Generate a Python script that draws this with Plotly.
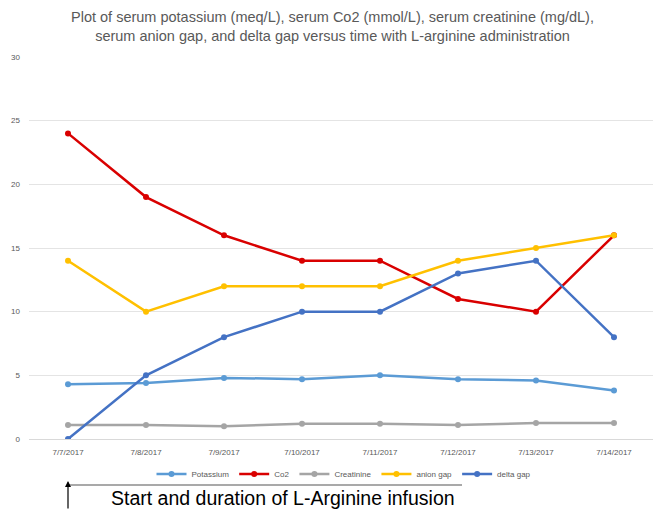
import plotly.graph_objects as go

dates = ["7/7/2017", "7/8/2017", "7/9/2017", "7/10/2017", "7/11/2017", "7/12/2017", "7/13/2017", "7/14/2017"]
potassium = [4.3, 4.4, 4.8, 4.7, 5.0, 4.7, 4.6, 3.8]
co2 = [24, 19, 16, 14, 14, 11, 10, 16]
creatinine = [1.1, 1.1, 1.0, 1.2, 1.2, 1.1, 1.25, 1.25]
anion_gap = [14, 10, 12, 12, 12, 14, 15, 16]
delta_gap = [0, 5, 8, 10, 10, 13, 14, 8]

series = [
    ("Potassium", potassium, "#5B9BD5"),
    ("Co2", co2, "#D90000"),
    ("Creatinine", creatinine, "#A5A5A5"),
    ("anion gap", anion_gap, "#FFC000"),
    ("delta gap", delta_gap, "#4472C4"),
]

fig = go.Figure()
for name, vals, col in series:
    fig.add_trace(go.Scatter(
        x=dates, y=vals, name=name, mode="lines+markers",
        line=dict(color=col, width=2.5),
        marker=dict(color=col, size=6, symbol="circle"),
    ))

W, H = 653, 510
L, R, T, B = 29, 0, 57, 71
pw, ph = W - L - R, H - T - B

def px(xp):
    return (xp - L) / pw

def py(yp):
    return (H - B - yp) / ph

fig.update_layout(
    width=W, height=H,
    margin=dict(l=L, r=R, t=T, b=B, autoexpand=False),
    paper_bgcolor="white", plot_bgcolor="white",
    font=dict(family="Liberation Sans", color="#595959"),
    xaxis=dict(
        type="category", range=[-0.5, 7.5],
        showgrid=False, showline=True, linecolor="#D9D9D9", linewidth=1,
        ticks="", tickfont=dict(size=8, color="#595959"),
        ticklabelstandoff=5,
    ),
    yaxis=dict(
        range=[0, 30], dtick=5, showgrid=True, gridcolor="#E4E4E4", gridwidth=1,
        zeroline=False, showline=False, ticks="",
        tickfont=dict(size=8, color="#595959"),
        ticklabelstandoff=8,
    ),
    legend=dict(
        orientation="h", x=px(344), xanchor="center", y=py(474), yanchor="middle",
        font=dict(size=8, color="#595959"),
        bgcolor="rgba(0,0,0,0)", tracegroupgap=0,
    ),
    showlegend=True,
)

fig.add_annotation(xref="paper", yref="paper", x=px(332), y=py(26),
                   text="Plot of serum potassium (meq/L), serum Co2 (mmol/L), serum creatinine (mg/dL),<br>serum anion gap, and delta gap versus time with L-arginine administration",
                   showarrow=False, xanchor="center", yanchor="middle",
                   font=dict(size=14.5, color="#595959", family="Liberation Sans"))

fig.add_shape(type="line", xref="paper", yref="paper",
              x0=px(68), x1=px(462), y0=py(485), y1=py(485),
              line=dict(color="#8C8C8C", width=1.5))

fig.add_annotation(xref="paper", yref="paper", x=px(68), y=py(481),
                   showarrow=True, ax=0, ay=30, arrowhead=2, arrowsize=1,
                   arrowwidth=1.2, arrowcolor="black", text="")

fig.add_annotation(xref="paper", yref="paper", x=px(283), y=py(498),
                   text="Start and duration of L-Arginine infusion", showarrow=False,
                   font=dict(size=19.5, color="black", family="Liberation Sans"),
                   xanchor="center", yanchor="middle")

fig.write_html("out.html", config={"displayModeBar": False},
               post_script="document.body.style.margin='0';document.body.style.overflow='hidden';")
